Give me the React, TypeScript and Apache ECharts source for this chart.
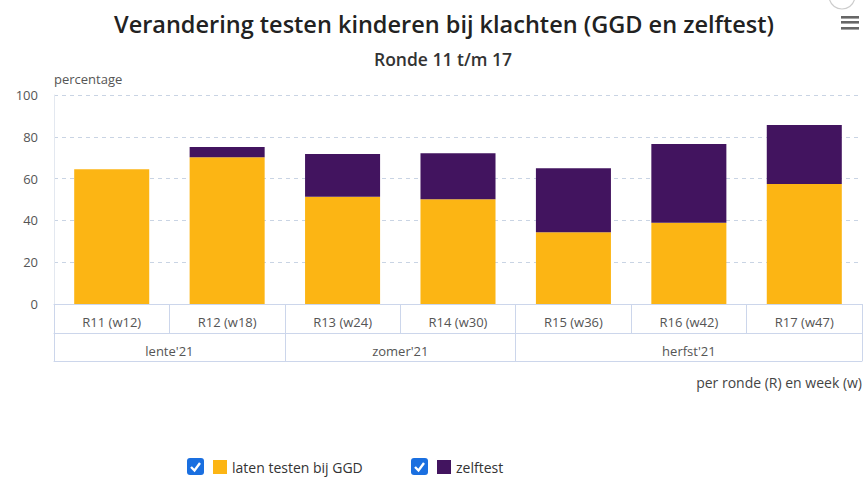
import React, { useEffect, useRef } from "react";
import * as echarts from "echarts";

const categories = ["R11 (w12)", "R12 (w18)", "R13 (w24)", "R14 (w30)", "R15 (w36)", "R16 (w42)", "R17 (w47)"];
const ggdValues = [64.5, 70.2, 51.3, 50.1, 34.3, 38.9, 57.4];
const zelftestValues = [0, 4.9, 20.5, 22.0, 30.6, 37.7, 28.2];
const seasons = ["lente'21", "zomer'21", "herfst'21"];
const seasonCenters = [1, 3, 5.5];
const seasonBounds = [0, 2, 4, 7];
const seriesNames = ["laten testen bij GGD", "zelftest"];

const FONT = "'Open Sans', sans-serif";
const ORANGE = "#FCB514";
const PURPLE = "#42145F";
const LINE = "#ccd6eb";

export default function App() {
  const ref = useRef<HTMLDivElement>(null);
  useEffect(() => {
    if (!ref.current) return;
    const chart = echarts.init(ref.current, null, { renderer: "svg" });
    const checkbox = (x: number, y: number) => ({
      type: "group",
      x,
      y,
      children: [
        { type: "rect", shape: { x: 0, y: 0, width: 17, height: 17, r: 3 }, style: { fill: "#1a6fe0" } },
        {
          type: "polyline",
          shape: { points: [[4, 9], [7.5, 12.5], [13, 5]] },
          style: { stroke: "#fff", lineWidth: 2.4, fill: null },
        },
      ],
    });
    const legendBase = {
      top: 460,
      icon: "rect",
      itemWidth: 14,
      itemHeight: 14,
      padding: 0,
      selectedMode: false,
      textStyle: { fontFamily: FONT, fontSize: 14, color: "#333" },
    };
    chart.setOption({
      animation: false,
      textStyle: { fontFamily: FONT },
      title: [
        {
          text: "Verandering testen kinderen bij klachten (GGD en zelftest)",
          left: 439,
          top: 7,
          textAlign: "center",
          textStyle: { fontFamily: FONT, fontSize: 23.5, fontWeight: 600, color: "#222" },
        },
        {
          text: "Ronde 11 t/m 17",
          left: 438,
          top: 45,
          textAlign: "center",
          textStyle: { fontFamily: FONT, fontSize: 17.5, fontWeight: 600, color: "#333" },
        },
      ],
      grid: { left: 54, right: 2, top: 95, bottom: 174, containLabel: false },
      legend: [
        { ...legendBase, data: [seriesNames[0]], left: 213 },
        { ...legendBase, data: [seriesNames[1]], left: 437 },
      ],
      xAxis: [
        {
          type: "category",
          data: categories,
          position: "bottom",
          axisLine: { show: true, lineStyle: { color: LINE } },
          axisTick: { show: true, interval: 0, length: 29, lineStyle: { color: LINE } },
          axisLabel: { interval: 0, color: "#555", fontSize: 13, margin: 11 },
          splitLine: { show: false },
        },
        {
          type: "value",
          min: 0,
          max: 7,
          position: "bottom",
          offset: 29,
          axisLine: { show: true, lineStyle: { color: LINE } },
          axisTick: { show: true, customValues: seasonBounds, length: 28, lineStyle: { color: LINE } },
          axisLabel: {
            customValues: seasonCenters,
            color: "#555",
            fontSize: 13,
            margin: 11,
            formatter: (v: number) => seasons[seasonCenters.indexOf(v)] ?? "",
          },
          splitLine: { show: false },
        },
        {
          type: "value",
          min: 0,
          max: 7,
          position: "bottom",
          offset: 57,
          axisLine: { show: true, lineStyle: { color: LINE } },
          axisTick: { show: false },
          axisLabel: { show: false },
          splitLine: { show: false },
        },
      ],
      yAxis: {
        type: "value",
        min: 0,
        max: 100,
        interval: 20,
        name: "percentage",
        nameLocation: "end",
        nameGap: 10,
        nameTextStyle: { align: "left", color: "#555", fontSize: 13, fontFamily: FONT },
        axisLine: { show: true, lineStyle: { color: "#e3e8f0" } },
        axisTick: { show: false },
        axisLabel: { color: "#555", fontSize: 13, margin: 16 },
        splitLine: { show: true, lineStyle: { color: "#c9d4e4", type: [4, 4] } },
      },
      series: [
        {
          name: seriesNames[0],
          type: "bar",
          stack: "total",
          barWidth: "65%",
          xAxisIndex: 0,
          itemStyle: { color: ORANGE },
          data: ggdValues,
        },
        {
          name: seriesNames[1],
          type: "bar",
          stack: "total",
          barWidth: "65%",
          xAxisIndex: 0,
          itemStyle: { color: PURPLE },
          data: zelftestValues,
        },
      ],
      graphic: [
        {
          type: "text",
          right: 2,
          top: 375,
          style: { text: "per ronde (R) en week (w)", fill: "#444", font: `14px ${FONT}` },
        },
        checkbox(187, 458),
        checkbox(411, 458),
        { type: "rect", shape: { x: 841, y: 16, width: 18, height: 2.6 }, style: { fill: "#666" } },
        { type: "rect", shape: { x: 841, y: 21, width: 18, height: 2.6 }, style: { fill: "#666" } },
        { type: "rect", shape: { x: 841, y: 27, width: 18, height: 2.6 }, style: { fill: "#666" } },
        {
          type: "arc",
          shape: { cx: 842, cy: -4, r: 13, startAngle: 0.3, endAngle: Math.PI - 0.3 },
          style: { stroke: "#ccc", lineWidth: 1.2, fill: null },
        },
      ],
    });
    return () => chart.dispose();
  }, []);
  return <div ref={ref} style={{ width: 864, height: 478, position: "absolute", left: 0, top: 0 }} />;
}
